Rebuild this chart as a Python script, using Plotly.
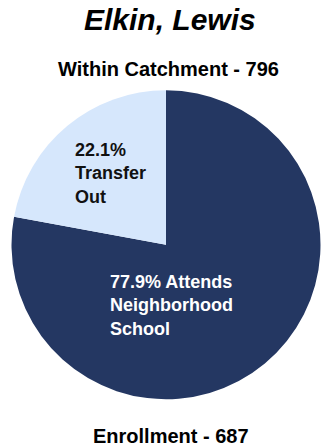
import plotly.graph_objects as go

# Data
school_name = "Elkin, Lewis"
within_catchment = 796
enrollment = 687
slice_labels = ["Attends Neighborhood School", "Transfer Out"]
slice_text = ["Attends<br>Neighborhood<br>School", "<br>Transfer<br>Out"]
slice_values = [77.9, 22.1]
slice_colors = ["#243762", "#d6e7fc"]
text_colors = ["#ffffff", "#111111"]

W, H = 322, 446
FONT = "Liberation Sans, Arial, sans-serif"

fig = go.Figure()
fig.add_trace(go.Pie(
    labels=slice_labels,
    values=slice_values,
    marker=dict(colors=slice_colors, line=dict(width=0)),
    sort=False,
    direction="clockwise",
    rotation=0,
    textinfo="none",
    hoverinfo="label+percent",
    showlegend=False,
    domain=dict(x=[(166 - 154.5) / W, (166 + 154.5) / W],
                y=[(H - 399.5) / H, (H - 90) / H]),
))

# slice labels
label_pos = [(108 / W, 1 - 305 / H), (73.3 / W, 1 - 173 / H)]
for (lx, ly), val, txt, col in zip(label_pos, slice_values, slice_text, text_colors):
    fig.add_annotation(
        x=lx, y=ly, xref="paper", yref="paper",
        xanchor="left", yanchor="middle", align="left",
        text=f"<b>{val}% {txt}</b>", showarrow=False,
        font=dict(family=FONT, size=18, color=col),
    )

fig.add_annotation(x=170 / W, y=1 - 19.5 / H, xref="paper", yref="paper",
                   xanchor="center", yanchor="middle",
                   text=f"<b><i>{school_name}</i></b>", showarrow=False,
                   font=dict(family=FONT, size=30, color="#000000"))
fig.add_annotation(x=168 / W, y=1 - 68.7 / H, xref="paper", yref="paper",
                   xanchor="center", yanchor="middle",
                   text=f"<b>Within Catchment - {within_catchment}</b>", showarrow=False,
                   font=dict(family=FONT, size=20, color="#000000"))
fig.add_annotation(x=170.5 / W, y=1 - 436 / H, xref="paper", yref="paper",
                   xanchor="center", yanchor="middle",
                   text=f"<b>Enrollment - {enrollment}</b>", showarrow=False,
                   font=dict(family=FONT, size=20, color="#000000"))

fig.update_layout(
    width=W, height=H,
    margin=dict(l=0, r=0, t=0, b=0),
    paper_bgcolor="#ffffff",
    plot_bgcolor="#ffffff",
)

fig.write_html(
    "out.html",
    config={"displayModeBar": False},
    post_script="document.body.style.margin='0';document.body.style.overflow='hidden';",
)
